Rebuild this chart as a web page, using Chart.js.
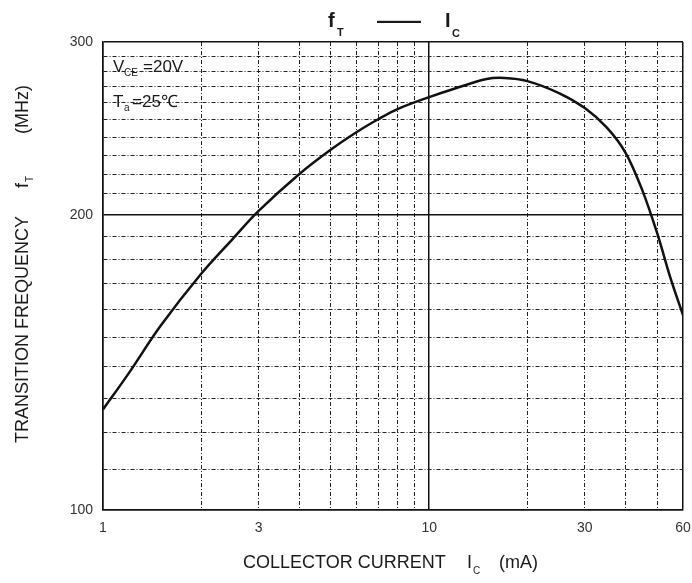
<!DOCTYPE html>
<html>
<head>
<meta charset="utf-8">
<script src="https://cdn.jsdelivr.net/npm/chart.js@4.4.1/dist/chart.umd.min.js"></script>
<style>
  html, body { margin: 0; padding: 0; background: #fff; }
  #grafica { display: block; }
</style>
</head>
<body>
<canvas id="grafica" width="692" height="583"></canvas>
<script>
const corrienteIc = [1, 1.2, 1.5, 2, 2.5, 3, 4, 5, 6, 7, 8, 10, 12, 15, 17, 20, 25, 30, 35, 40, 45, 50, 55, 60];
const frecuenciaFt = [126.6, 137.9, 154.0, 174.1, 189.0, 201.8, 220.1, 233.1, 242.9, 250.4, 256.3, 263.6,
                      269.0, 275.0, 275.7, 273.7, 266.1, 256.9, 245.5, 231.3, 211.9, 191.5, 172.1, 158.0];

// Marcas de la cuadrícula y etiquetas visibles
const marcasX = [1, 2, 3, 4, 5, 6, 7, 8, 9, 10, 20, 30, 40, 50, 60];
const etiquetasX = [1, 3, 10, 30, 60];
const marcasY = [100, 110, 120, 130, 140, 150, 160, 170, 180, 190, 200,
                 210, 220, 230, 240, 250, 260, 270, 280, 290, 300];
const etiquetasY = [100, 200, 300];

const FUENTE = "'Liberation Sans', Arial, sans-serif";
const solidasX = [1, 10, 60];
const solidasY = [100, 200, 300];
const trazo = [4, 2, 1, 2];

// Función para decidir el estilo de cada línea de la cuadrícula
function estiloLinea(solidas) {
    return {
        dash: (c) => (c.tick && !solidas.includes(c.tick.value)) ? trazo : [],
        ancho: (c) => (c.tick && solidas.includes(c.tick.value)) ? 1.5 : 1,
        color: (c) => (c.tick && solidas.includes(c.tick.value)) ? '#111' : '#222'
    };
}

const gx = estiloLinea(solidasX);
const gy = estiloLinea(solidasY);

// Textos con subíndices dibujados sobre el lienzo
const textos = {
    id: 'textos',
    afterDraw(chart) {
        const ctx = chart.ctx;
        ctx.save();
        ctx.fillStyle = '#1a1a1a';
        ctx.textAlign = 'left';
        ctx.textBaseline = 'alphabetic';

        // Título
        ctx.font = 'bold 20px ' + FUENTE;
        ctx.fillText('f', 328, 27);
        ctx.fillText('I', 445, 27);
        ctx.font = 'bold 11px ' + FUENTE;
        ctx.fillText('T', 337, 36);
        ctx.fillText('C', 452, 37);
        ctx.font = 'bold 22px ' + FUENTE;
        ctx.fillText('——', 377, 28);

        // Condiciones de medida
        ctx.font = '17px ' + FUENTE;
        ctx.fillText('V', 113, 72);
        ctx.fillText('=20V', 143, 72);
        ctx.fillText('T', 113, 107);
        ctx.fillText('=25℃', 132, 107);
        ctx.font = '10px ' + FUENTE;
        ctx.fillText('CE', 124, 76);
        ctx.fillText('a', 124, 111);

        // Título eje X
        ctx.font = '18px ' + FUENTE;
        ctx.fillText('COLLECTOR CURRENT', 243, 568);
        ctx.fillText('I', 467, 568);
        ctx.fillText('(mA)', 499, 568);
        ctx.font = '10px ' + FUENTE;
        ctx.fillText('C', 473, 574);

        // Título eje Y (girado)
        ctx.translate(28, 443);
        ctx.rotate(-Math.PI / 2);
        ctx.font = '18px ' + FUENTE;
        ctx.fillText('TRANSITION FREQUENCY', 0, 0);
        ctx.fillText('f', 255, 0);
        ctx.fillText('(MHz)', 309, 0);
        ctx.font = '10px ' + FUENTE;
        ctx.fillText('T', 261, 5);
        ctx.restore();
    }
};

const ctx = document.getElementById('grafica').getContext('2d');
window.grafica = new Chart(ctx, {
    type: 'line',
    data: {
        datasets: [{
            data: corrienteIc.map((x, i) => ({ x: x, y: frecuenciaFt[i] })),
            borderColor: '#111',
            borderWidth: 2.5,
            pointRadius: 0,
            fill: false,
            tension: 0.35
        }]
    },
    options: {
        responsive: false,
        animation: false,
        layout: { padding: { top: 42, right: 9, left: 0, bottom: 0 } },
        plugins: {
            legend: { display: false },
            tooltip: { enabled: false }
        },
        scales: {
            x: {
                type: 'logarithmic',
                min: 1,
                max: 60,
                afterBuildTicks: (s) => { s.ticks = marcasX.map(v => ({ value: v })); },
                afterFit: (s) => { s.height = 73; s.paddingLeft = 0; s.paddingRight = 0; },
                ticks: {
                    autoSkip: false,
                    maxRotation: 0,
                    padding: 10,
                    color: '#333',
                    font: { family: FUENTE, size: 14 },
                    callback: (v) => etiquetasX.includes(v) ? String(v) : ''
                },
                grid: { drawTicks: false, color: gx.color, lineWidth: gx.ancho },
                border: { display: true, color: '#111', width: 1.5, dash: gx.dash }
            },
            y: {
                type: 'logarithmic',
                min: 100,
                max: 300,
                afterBuildTicks: (s) => { s.ticks = marcasY.map(v => ({ value: v })); },
                afterFit: (s) => { s.width = 103; s.paddingTop = 0; s.paddingBottom = 0; },
                ticks: {
                    autoSkip: false,
                    padding: 10,
                    color: '#333',
                    font: { family: FUENTE, size: 14 },
                    callback: (v) => etiquetasY.includes(v) ? String(v) : ''
                },
                grid: { drawTicks: false, color: gy.color, lineWidth: gy.ancho },
                border: { display: true, color: '#111', width: 1.5, dash: gy.dash }
            }
        }
    },
    plugins: [textos]
});
</script>
</body>
</html>
